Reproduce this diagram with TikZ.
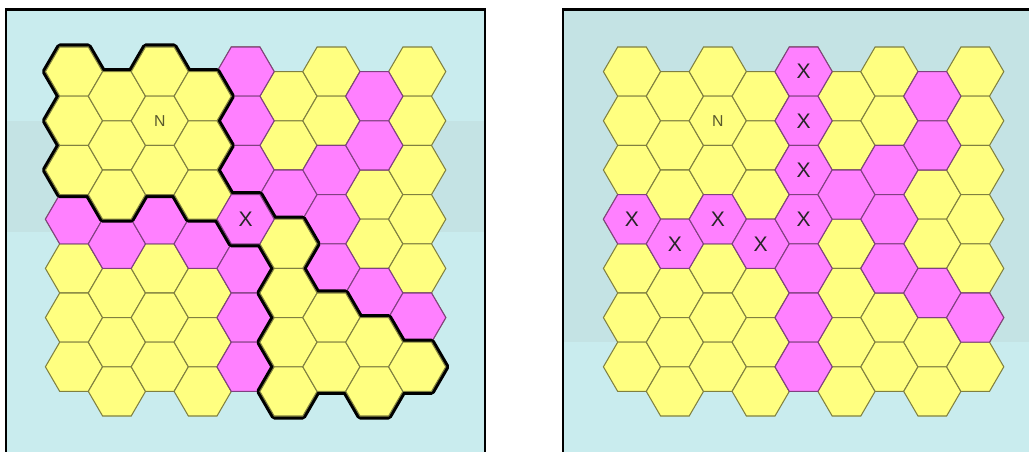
\documentclass[tikz,border=0pt]{standalone}
\usepackage{fontspec}
\setmainfont{Liberation Sans}

\definecolor{hexyellow}{RGB}{255,255,128}
\definecolor{hexpink}{RGB}{255,128,255}
\definecolor{boardbg}{RGB}{201,236,238}
\definecolor{boardband}{RGB}{196,227,228}

\newcommand\hexcell[4]{%
  \pgfmathsetmacro\hcx{#1+42.9*#2}%
  \pgfmathsetmacro\hcy{71.6+49.2*#3+24.6*mod(#2,2)}%
  \draw[#4] (\hcx+28.6,\hcy) -- ++(-14.3,-24.6) -- ++(-28.6,0) -- ++(-14.3,24.6) -- ++(14.3,24.6) -- ++(28.6,0) -- cycle;}

\tikzset{
  yhex/.style={fill=hexyellow, draw=hexyellow!50!black, line width=0.6pt},
  phex/.style={fill=hexpink, draw=hexpink!50!black, line width=0.6pt},
  rim/.style={draw=black, line width=4pt, line join=round},
  frame/.style={draw=black, line width=1.7pt},
  xmark/.style={font=\fontsize{12}{12}\selectfont, text=black!85},
  nmark/.style={font=\fontsize{9}{9}\selectfont, text=hexyellow!35!black}
}

\begin{document}
\begin{tikzpicture}[x=0.02cm, y=-0.02cm]
        \useasboundingbox (0,0) rectangle (1029,451);
        \clip (0,0) rectangle (1029,451);
        \fill[white] (0,0) rectangle (1029,451);
        \fill[boardbg] (6,9.5) rectangle (485,470);
        \fill[boardband] (6,121) rectangle (485,232);
        \fill[boardbg] (563,9.5) rectangle (1040,470);
        \fill[boardband] (563,9.5) rectangle (1040,342);

        \foreach \px in {74,632} {
            \foreach \c in {0,...,8} {
                \foreach \r in {0,...,6} {
                    \hexcell{\px}{\c}{\r}{yhex}
                }
            }
            \foreach \c/\r in {0/3,1/3,2/3,3/3,4/0,4/1,4/2,4/3,4/4,4/5,4/6,5/2,6/2,6/3,6/4,7/0,7/1,7/4,8/5} {
                \hexcell{\px}{\c}{\r}{phex}
            }
        }

        \foreach \c/\r in {0/0,0/1,0/2,1/0,1/1,1/2,2/0,2/1,2/2,3/0,3/1,3/2,4/3,5/3,5/4,5/5,5/6,6/5,6/6,7/5,7/6,8/6} {
            \hexcell{74}{\c}{\r}{rim}
        }
        \foreach \c/\r in {0/0,0/1,0/2,1/0,1/1,1/2,2/0,2/1,2/2,3/0,3/1,3/2,5/3,5/4,5/5,5/6,6/5,6/6,7/5,7/6,8/6} {
            \hexcell{74}{\c}{\r}{yhex}
        }
        \hexcell{74}{4}{3}{phex}

        \draw[frame] (6,470) -- (6,9.5) -- (485,9.5) -- (485,470);
        \draw[frame] (563,470) -- (563,9.5) -- (1040,9.5);

        \node[nmark] (nl) at (159.8,120.8) {N};
        \node[xmark] (xl) at (245.6,219.2) {X};

        \node[nmark] (nr) at (717.8,120.8) {N};
        \node[xmark] (xr03) at (632,219.2) {X};
        \node[xmark] (xr13) at (674.9,243.8) {X};
        \node[xmark] (xr23) at (717.8,219.2) {X};
        \node[xmark] (xr33) at (760.7,243.8) {X};
        \node[xmark] (xr40) at (803.6,71.6) {X};
        \node[xmark] (xr41) at (803.6,120.8) {X};
        \node[xmark] (xr42) at (803.6,170) {X};
        \node[xmark] (xr43) at (803.6,219.2) {X};
\end{tikzpicture}
\end{document}
